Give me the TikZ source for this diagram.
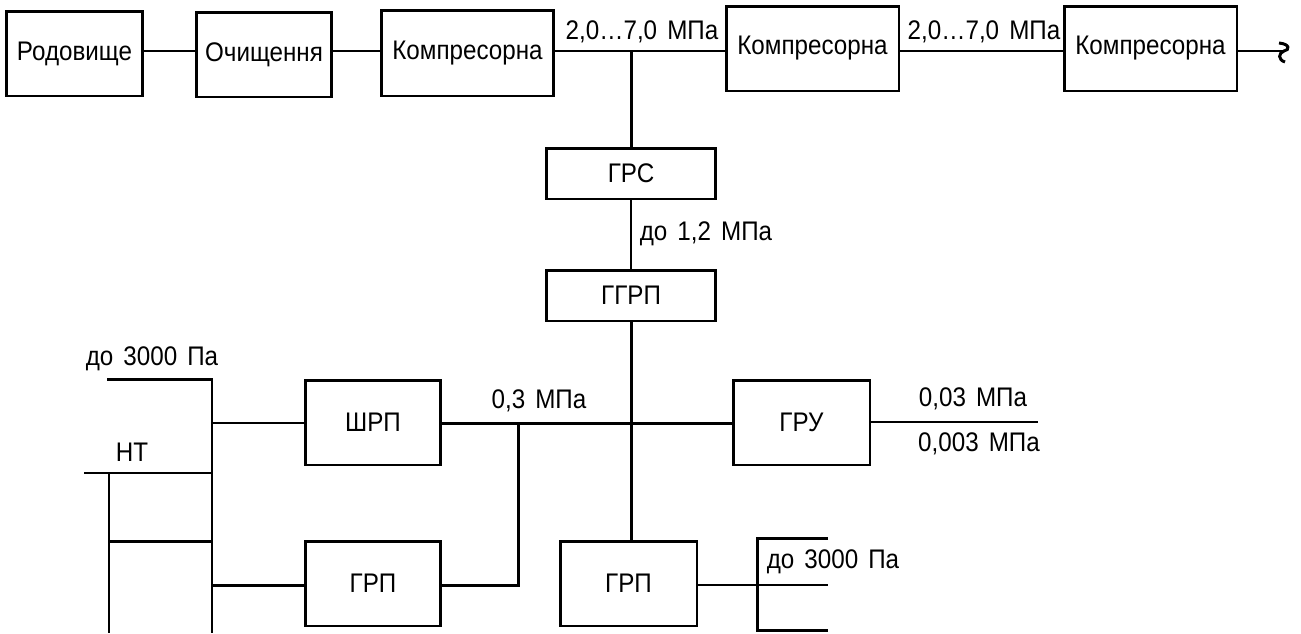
\documentclass[tikz,border=0pt]{standalone}
\usepackage{fontspec}
\setmainfont[FakeStretch=0.9, WordSpace=1.5]{Liberation Sans}
\usepackage{tikz}

\tikzset{
  blok/.style={draw, line width=1.7pt, inner sep=0pt, font=\fontsize{15.3}{18}\selectfont},
  napys/.style={inner sep=0pt, font=\fontsize{15.3}{18}\selectfont},
  tovsta/.style={line width=1.7pt},
  tonka/.style={line width=1.0pt}
}

\begin{document}
\begin{tikzpicture}[x=0.02cm, y=-0.02cm]
        \useasboundingbox (0,0) rectangle (1301,633);
        % top row
        \node[blok, minimum width=2.74cm, minimum height=1.70cm] (rod) at (74.5,53.5) {Родовище};
        \node[blok, minimum width=2.72cm, minimum height=1.70cm] (och) at (264,54.5) {Очищення};
        \node[blok, minimum width=3.46cm, minimum height=1.72cm] (komp1) at (467.5,53) {Компресорна};
        \node[blok, minimum width=3.46cm, minimum height=1.70cm] (komp2) at (812.5,48.5) {Компресорна};
        \node[blok, minimum width=3.46cm, minimum height=1.70cm] (komp3) at (1150.5,48.5) {Компресорна};
        \coordinate (mag) at (631,51);
        \coordinate (kinec) at (1284,51);
        \draw[tovsta] (rod.east |- mag) -- (och.west |- mag);
        \draw[tovsta] (och.east |- mag) -- (komp1.west |- mag);
        \draw[tovsta] (komp1.east |- mag) -- (komp2.west |- mag);
        \draw[tovsta] (komp2.east |- mag) -- (komp3.west |- mag);
        \draw[tovsta] (komp3.east |- mag) -- (kinec);
        \draw[tovsta] (1279,43) .. controls (1290,44) and (1290,50) .. (kinec)
                               .. controls (1278,53) and (1278,60) .. (1285,62);
        \node[napys] (tysk1) at (642,32) {2,0…7,0 МПа};
        \node[napys] (tysk2) at (984,32) {2,0…7,0 МПа};

        % gas distribution
        \node[blok, minimum width=3.40cm, minimum height=1.02cm] (grs) at (631,173.5) {ГРС};
        \node[blok, minimum width=3.40cm, minimum height=1.02cm] (ggrp) at (631,295.5) {ГГРП};
        \draw[tovsta] (mag) -- (grs.north);
        \draw[tonka] (grs.south) -- (ggrp.north);
        \node[napys] (tysk3) at (706,234) {до 1,2 МПа};

        \node[blok, minimum width=2.72cm, minimum height=1.70cm] (shrp) at (373,422.5) {ШРП};
        \node[blok, minimum width=2.74cm, minimum height=1.70cm] (gru) at (801.5,422.5) {ГРУ};
        \node[blok, minimum width=2.72cm, minimum height=1.70cm] (grp1) at (373,583.5) {ГРП};
        \node[blok, minimum width=2.74cm, minimum height=1.70cm] (grp2) at (628.5,583.5) {ГРП};
        \coordinate (vuz) at (631,423);
        \coordinate (vuz2) at (518,423);
        \draw[tovsta] (ggrp.south) -- (vuz) -- (grp2.north -| vuz);
        \draw[tovsta] (shrp.east |- vuz) -- (gru.west |- vuz);
        \draw[tovsta] (grp1.east |- 0,585) -- (518,585) -- (vuz2);
        \node[napys] (tysk4) at (539,401) {0,3 МПа};

        % low pressure, left
        \coordinate (l1) at (212,379);
        \coordinate (l2) at (212,633);
        \draw[tovsta] (107,379) -- (l1) -- (l2);
        \draw[tonka] (shrp.west |- vuz) -- (212,423);
        \draw[tovsta] (grp1.west |- 0,585) -- (212,585);
        \draw[tonka] (84,473) -- (212,473);
        \draw[tonka] (109,473) -- (109,633);
        \draw[tovsta] (109,541) -- (212,541);
        \node[napys] (tysk5) at (152,359) {до 3000 Па};
        \node[napys] (nt) at (132,452) {НТ};

        % right
        \coordinate (r1) at (1038,422);
        \draw[tonka] (gru.east |- r1) -- (r1);
        \node[napys] (tysk6) at (973,399) {0,03 МПа};
        \node[napys] (tysk7) at (979,444) {0,003 МПа};
        \draw[tonka] (grp2.east |- 0,585) -- (828,585);
        \draw[tovsta] (828,538) -- (757,538) -- (757,630) -- (828,630);
        \node[napys] (tysk8) at (833,562) {до 3000 Па};
    \end{tikzpicture}
\end{document}
